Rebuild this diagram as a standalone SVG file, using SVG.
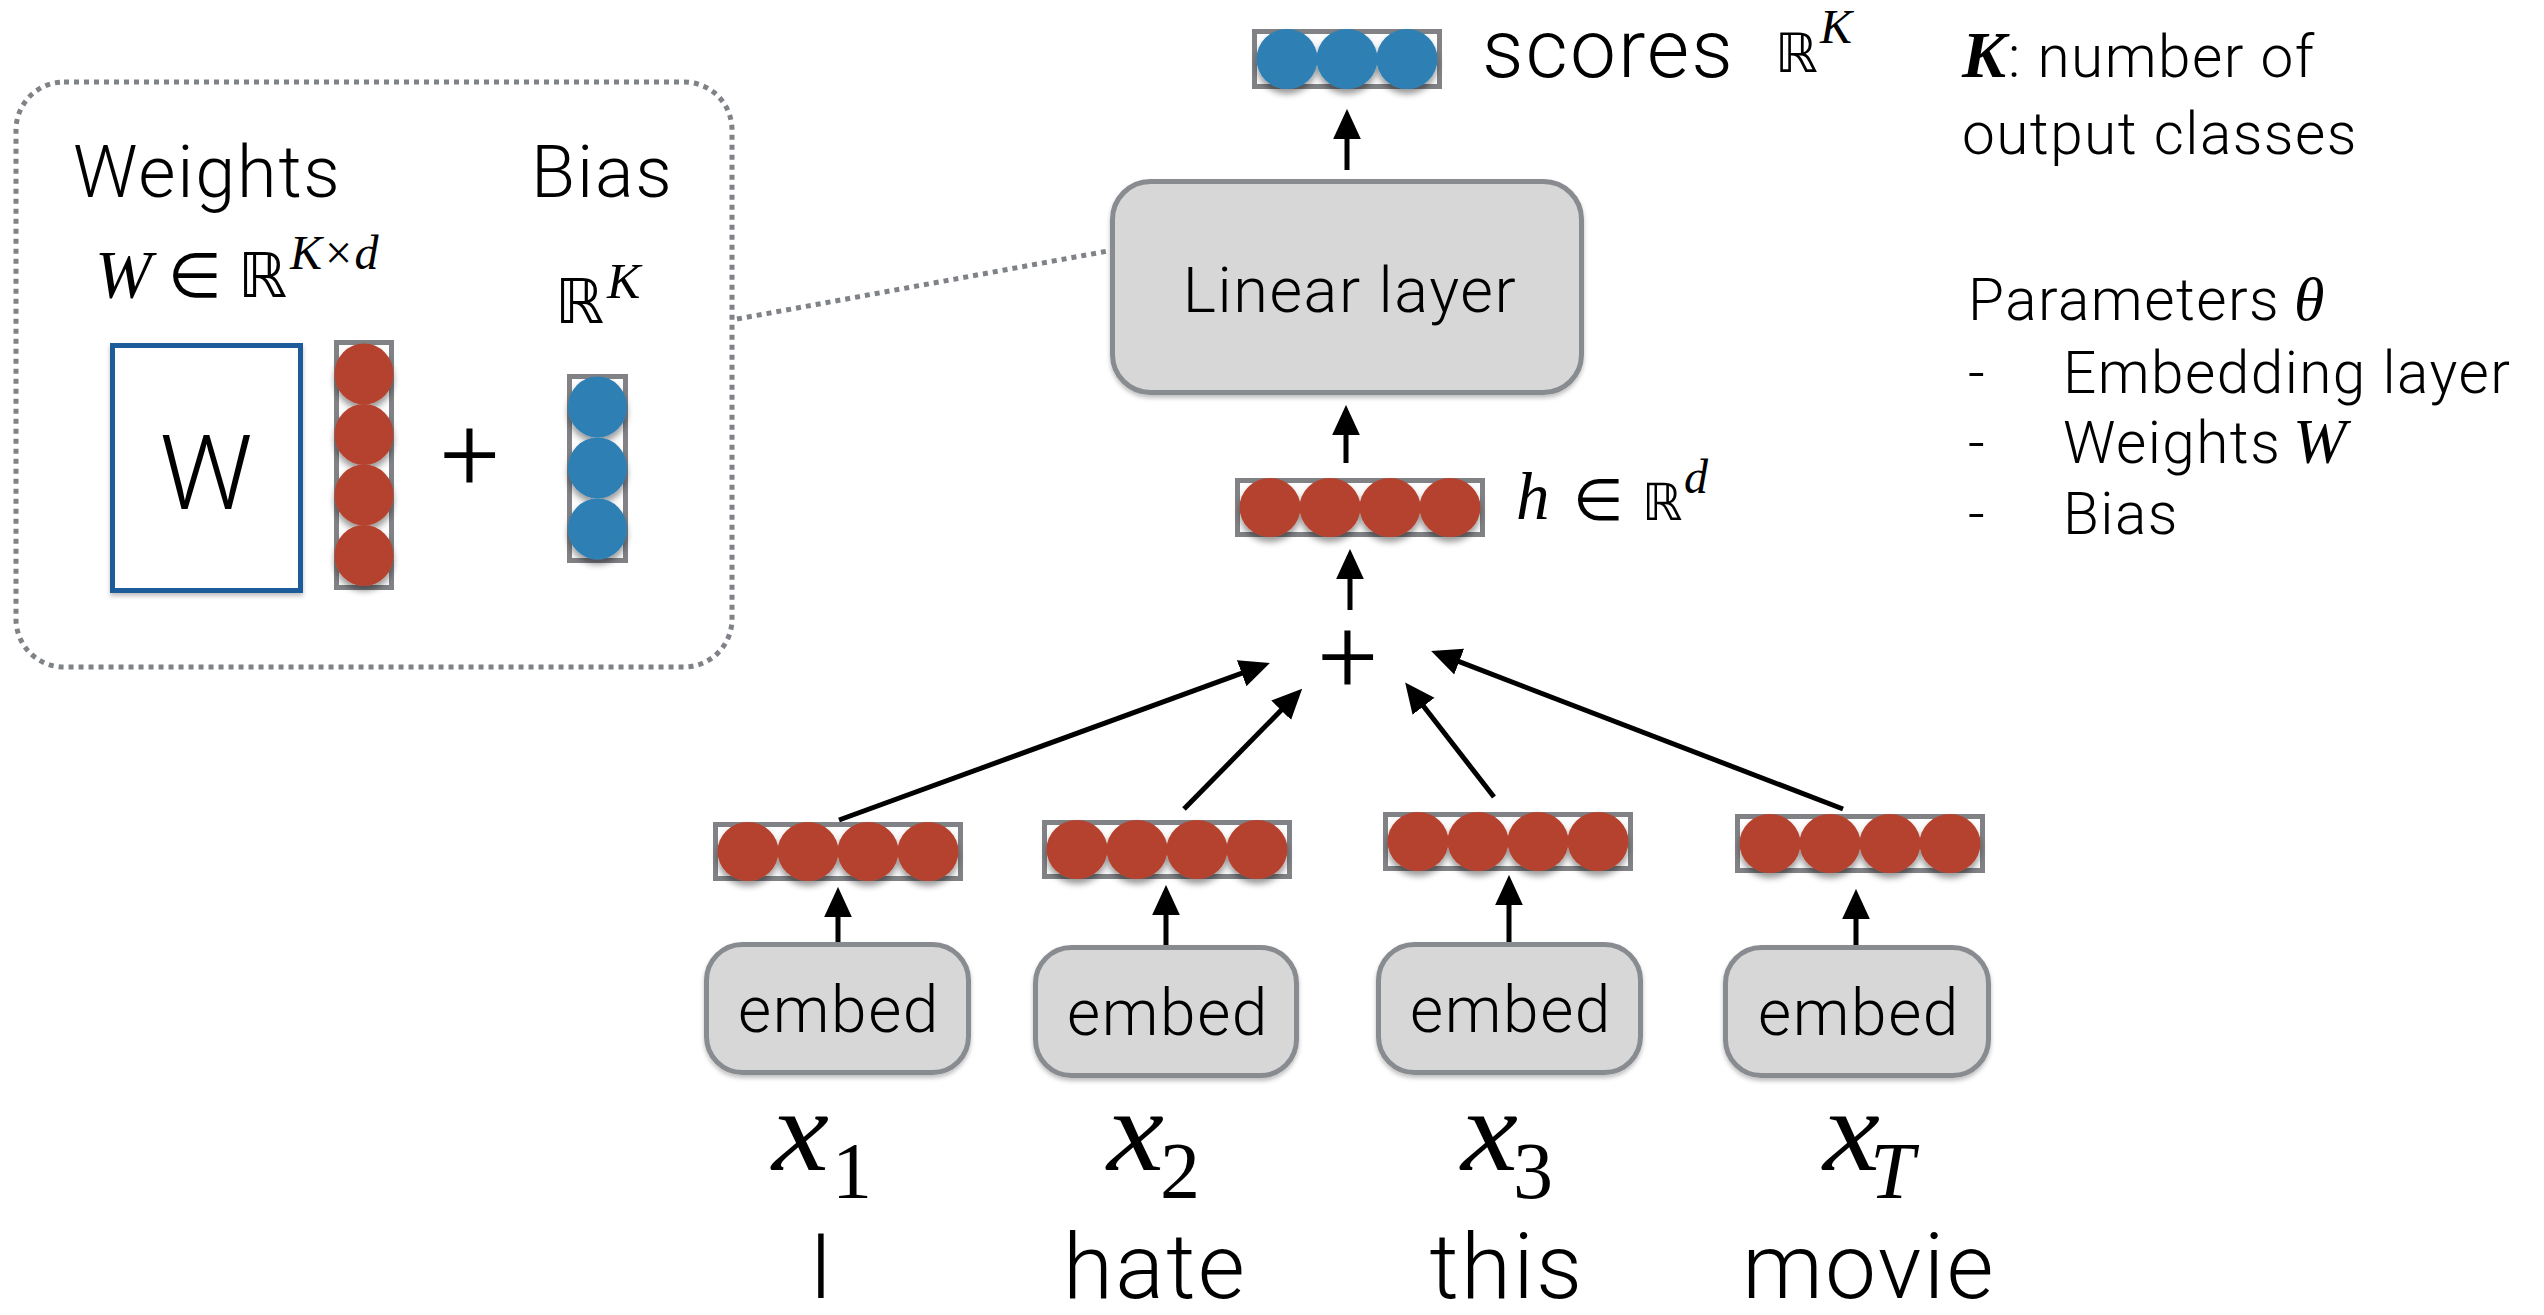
<svg xmlns="http://www.w3.org/2000/svg" xmlns:xlink="http://www.w3.org/1999/xlink" width="2544" height="1315" viewBox="0 0 2544 1315">
  <defs>
    <style>
      .sans { font-family: Roboto, "Liberation Sans", Arial, sans-serif; font-weight: 300; fill: #000; letter-spacing: 0.025em; }
      .math { font-family: "Liberation Serif", "Times New Roman", serif; font-style: italic; fill: #000; }
      .num { font-family: "Liberation Serif", "Times New Roman", serif; font-style: normal; fill: #000; }
      .bb { font-family: "DejaVu Sans", "Noto Sans", sans-serif; fill: #000; }
      .note { font-size: 58.5px; }
      .vecbox { fill: #fdfdfd; stroke: #808286; stroke-width: 5; }
      .red { fill: #b5432f; }
      .blue { fill: #2f7fb4; }
      .layer { fill: #d7d7d7; stroke: #888b8f; stroke-width: 5; }
      .arrow { stroke: #000; stroke-width: 5; fill: none; marker-end: url(#head); }
      .dots { fill: none; stroke: #7f8286; stroke-width: 5; stroke-dasharray: 5 5; }
    </style>
    <marker id="head" markerUnits="userSpaceOnUse" markerWidth="30" markerHeight="30" viewBox="0 0 26 24" refX="6" refY="12" orient="auto">
      <path d="M0,0 L26,12 L0,24 z" fill="#000"/>
    </marker>
    <filter id="shadow" x="-20%" y="-20%" width="140%" height="160%">
      <feDropShadow dx="0" dy="5" stdDeviation="3" flood-color="#000" flood-opacity="0.4"/>
    </filter>
    <filter id="boxshadow" x="-10%" y="-10%" width="120%" height="130%">
      <feDropShadow dx="0" dy="3" stdDeviation="2" flood-color="#000" flood-opacity="0.25"/>
    </filter>
    <!-- horizontal vector of four red units -->
    <g id="vec4">
      <rect class="vecbox" x="2.5" y="2.5" width="245" height="54"/>
      <g class="red" filter="url(#shadow)">
        <ellipse cx="35" cy="29.5" rx="30.5" ry="29.5"/>
        <ellipse cx="95" cy="29.5" rx="30.5" ry="29.5"/>
        <ellipse cx="155" cy="29.5" rx="30.5" ry="29.5"/>
        <ellipse cx="215" cy="29.5" rx="30.5" ry="29.5"/>
      </g>
    </g>
    <!-- horizontal vector of three blue units -->
    <g id="vec3">
      <rect class="vecbox" x="2.5" y="2.5" width="185" height="55"/>
      <g class="blue" filter="url(#shadow)">
        <ellipse cx="35" cy="30" rx="30.5" ry="30"/>
        <ellipse cx="95" cy="30" rx="30.5" ry="30"/>
        <ellipse cx="155" cy="30" rx="30.5" ry="30"/>
      </g>
    </g>
  </defs>

  <rect width="2544" height="1315" fill="#fff"/>

  <!-- expanded view of the linear layer parameters -->
  <g id="param-detail">
    <rect class="dots" x="16" y="82" width="716" height="585" rx="48"/>
    <text class="sans" x="73" y="197" font-size="72">Weights</text>
    <text class="sans" x="531" y="197" font-size="72">Bias</text>
    <text class="math" x="95" y="297" font-size="68">W</text>
    <text class="bb" x="168" y="297" font-size="62">∈</text>
    <text class="bb" x="238" y="297" font-size="62">ℝ</text>
    <text class="math" x="290" y="269" font-size="48">K×d</text>
    <text class="bb" x="555" y="323" font-size="62">ℝ</text>
    <text class="math" x="607" y="298" font-size="50">K</text>
    <g id="weight-matrix" filter="url(#boxshadow)">
      <rect x="112.5" y="345.5" width="188" height="245" fill="#fff" stroke="#1b5c9a" stroke-width="5"/>
    </g>
    <text class="sans" x="206" y="509" font-size="104" text-anchor="middle" style="letter-spacing:0">W</text>
    <g id="input-column">
      <rect class="vecbox" x="336.5" y="342.5" width="55" height="245"/>
      <g class="red" filter="url(#shadow)">
        <ellipse cx="364" cy="374" rx="29.5" ry="30.5"/>
        <ellipse cx="364" cy="434.5" rx="29.5" ry="30.5"/>
        <ellipse cx="364" cy="495" rx="29.5" ry="30.5"/>
        <ellipse cx="364" cy="555.5" rx="29.5" ry="30.5"/>
      </g>
    </g>
    <text class="sans" x="470" y="490" font-size="104" text-anchor="middle" style="letter-spacing:0">+</text>
    <g id="bias-column">
      <rect class="vecbox" x="569.5" y="376.5" width="56" height="184"/>
      <g class="blue" filter="url(#shadow)">
        <ellipse cx="597.5" cy="407" rx="29.5" ry="30.5"/>
        <ellipse cx="597.5" cy="468" rx="29.5" ry="30.5"/>
        <ellipse cx="597.5" cy="529" rx="29.5" ry="30.5"/>
      </g>
    </g>
  </g>

  <!-- output scores -->
  <g id="scores">
    <use xlink:href="#vec3" x="1252" y="29"/>
    <text class="sans" x="1482" y="77" font-size="82">scores</text>
    <text class="bb" x="1775" y="72" font-size="54">ℝ</text>
    <text class="math" x="1820" y="43" font-size="48">K</text>
  </g>

  <!-- linear layer -->
  <g id="linear-layer">
    <rect class="layer" x="1112.5" y="181.5" width="469" height="211" rx="38" filter="url(#boxshadow)"/>
    <text class="sans" x="1350" y="312" font-size="63" text-anchor="middle">Linear layer</text>
  </g>

  <!-- hidden representation -->
  <g id="hidden">
    <use xlink:href="#vec4" x="1235" y="478"/>
    <text class="math" x="1516" y="519" font-size="67">h</text>
    <text class="bb" x="1573" y="520" font-size="58">∈</text>
    <text class="bb" x="1642" y="520" font-size="51">ℝ</text>
    <text class="math" x="1684" y="493" font-size="48">d</text>
  </g>

  <!-- sum -->
  <g id="sum">
    <text class="sans" x="1348" y="692" font-size="104" text-anchor="middle" style="letter-spacing:0">+</text>
  </g>

  <!-- word embeddings -->
  <g id="vec-1"><use xlink:href="#vec4" x="713" y="822"/></g>
  <g id="vec-2"><use xlink:href="#vec4" x="1042" y="820"/></g>
  <g id="vec-3"><use xlink:href="#vec4" x="1383" y="812"/></g>
  <g id="vec-T"><use xlink:href="#vec4" x="1735" y="814"/></g>

  <g id="embed-1">
    <rect class="layer" x="706.5" y="944.5" width="262" height="128" rx="36" filter="url(#boxshadow)"/>
    <text class="sans" x="839" y="1032" font-size="64" text-anchor="middle">embed</text>
  </g>
  <g id="embed-2">
    <rect class="layer" x="1035.5" y="947.5" width="261" height="128" rx="36" filter="url(#boxshadow)"/>
    <text class="sans" x="1168" y="1035" font-size="64" text-anchor="middle">embed</text>
  </g>
  <g id="embed-3">
    <rect class="layer" x="1378.5" y="944.5" width="262" height="128" rx="36" filter="url(#boxshadow)"/>
    <text class="sans" x="1511" y="1032" font-size="64" text-anchor="middle">embed</text>
  </g>
  <g id="embed-T">
    <rect class="layer" x="1725.5" y="947.5" width="263" height="128" rx="36" filter="url(#boxshadow)"/>
    <text class="sans" x="1859" y="1035" font-size="64" text-anchor="middle">embed</text>
  </g>

  <!-- input tokens -->
  <g id="token-1">
    <text class="math" x="772" y="1170" font-size="116" textLength="57" lengthAdjust="spacingAndGlyphs">x</text>
    <text class="num" x="832" y="1198" font-size="80">1</text>
    <text class="sans" x="822" y="1298" font-size="91" text-anchor="middle">I</text>
  </g>
  <g id="token-2">
    <text class="math" x="1107" y="1170" font-size="116" textLength="57" lengthAdjust="spacingAndGlyphs">x</text>
    <text class="num" x="1160" y="1198" font-size="80">2</text>
    <text class="sans" x="1155" y="1298" font-size="91" text-anchor="middle">hate</text>
  </g>
  <g id="token-3">
    <text class="math" x="1461" y="1170" font-size="116" textLength="57" lengthAdjust="spacingAndGlyphs">x</text>
    <text class="num" x="1513" y="1198" font-size="80">3</text>
    <text class="sans" x="1507" y="1298" font-size="91" text-anchor="middle">this</text>
  </g>
  <g id="token-T">
    <text class="math" x="1823" y="1170" font-size="116" textLength="57" lengthAdjust="spacingAndGlyphs">x</text>
    <text class="math" x="1870" y="1198" font-size="80">T</text>
    <text class="sans" x="1869" y="1298" font-size="91" text-anchor="middle">movie</text>
  </g>

  <!-- notes -->
  <g id="notes">
    <text class="math" x="1962" y="77" font-size="66" font-weight="bold">K</text>
    <text class="sans note" x="2008" y="77">: number of</text>
    <text class="sans note" x="1962" y="154">output classes</text>
    <text class="sans note" x="1968" y="320">Parameters</text>
    <text class="math" x="2294" y="320" font-size="62">θ</text>
    <text class="sans note" x="1968" y="393">-</text>
    <text class="sans note" x="2063" y="393">Embedding layer</text>
    <text class="sans note" x="1968" y="463">-</text>
    <text class="sans note" x="2063" y="463">Weights</text>
    <text class="math" x="2293" y="463" font-size="64">W</text>
    <text class="sans note" x="1968" y="534">-</text>
    <text class="sans note" x="2063" y="534">Bias</text>
  </g>

  <!-- connectors -->
  <g id="connectors">
    <line class="dots" x1="737" y1="319" x2="1108" y2="251"/>
    <line class="arrow" x1="1347" y1="170" x2="1347" y2="132"/>
    <line class="arrow" x1="1346" y1="463" x2="1346" y2="428"/>
    <line class="arrow" x1="1350" y1="610" x2="1350" y2="572"/>
    <line class="arrow" x1="839" y1="820" x2="1248.2" y2="670.9"/>
    <line class="arrow" x1="1184" y1="809" x2="1286" y2="705.3"/>
    <line class="arrow" x1="1494" y1="797" x2="1419.3" y2="700.8"/>
    <line class="arrow" x1="1843" y1="809" x2="1452.7" y2="659.2"/>
    <line class="arrow" x1="838" y1="942" x2="838" y2="910"/>
    <line class="arrow" x1="1166" y1="945" x2="1166" y2="908"/>
    <line class="arrow" x1="1509" y1="942" x2="1509" y2="898"/>
    <line class="arrow" x1="1856" y1="945" x2="1856" y2="912"/>
  </g>
</svg>
